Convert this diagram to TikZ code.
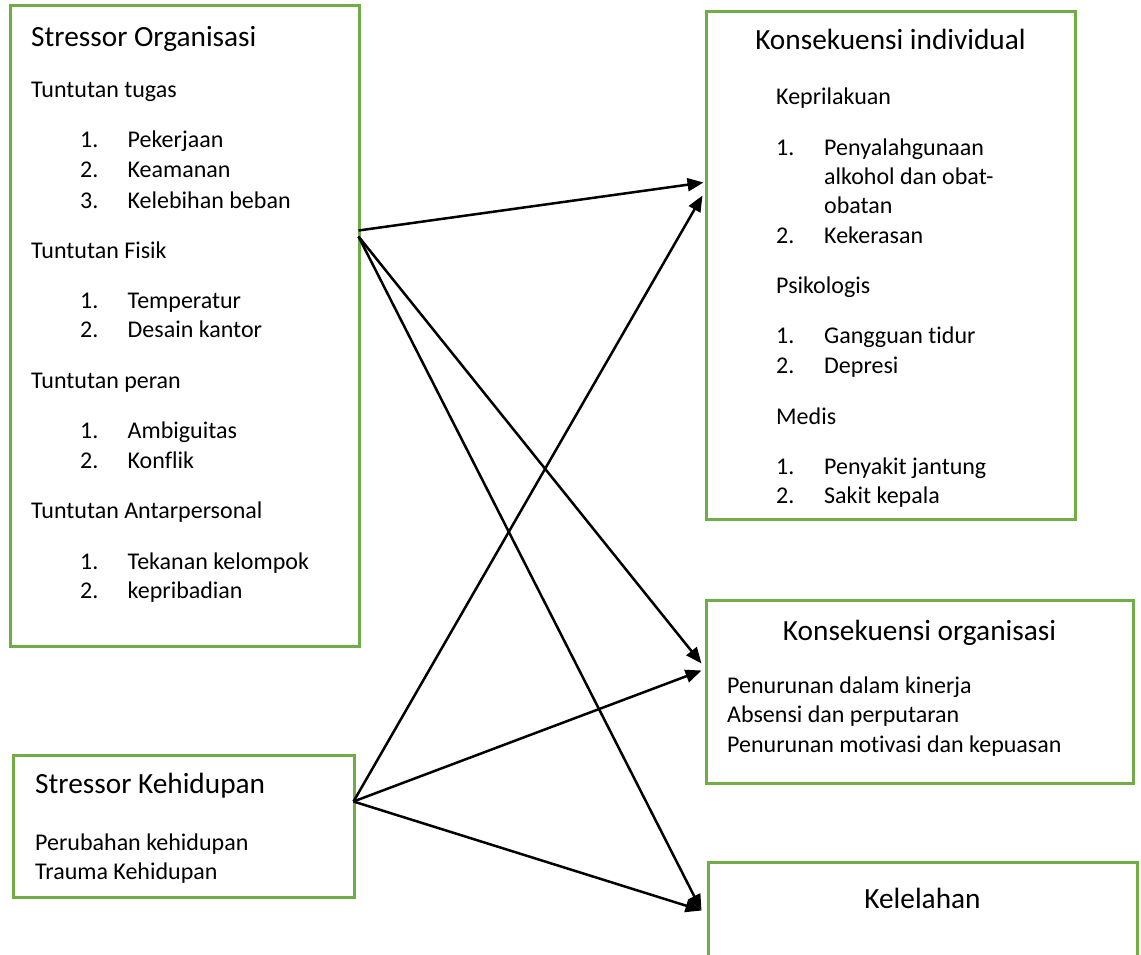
\documentclass[tikz,border=0pt]{standalone}
\usepackage{fontspec}
\setmainfont[Ligatures=CommonOff,RawFeature={-liga;-clig;-dlig}]{Carlito}
\usetikzlibrary{arrows.meta}
\definecolor{boxgreen}{HTML}{70AD47}
\tikzset{
  box/.style={draw=boxgreen, line width=3pt, rectangle, inner sep=0pt, fill=none},
  ttl/.style={inner sep=0pt, font=\fontsize{29.3}{35}\selectfont},
  txt/.style={inner sep=0pt, anchor=base west, font=\fontsize{24}{29.3}\selectfont},
  arr/.style={line width=2.5pt, -{Triangle[length=16pt,width=13pt]}}
}
\begin{document}
\begin{tikzpicture}[x=1pt,y=-1pt]
\clip (0,0) rectangle (1141,955);
\fill[white] (0,0) rectangle (1141,955);
% boxes
\node[box, minimum width=349pt, minimum height=640pt] (so) at (184.5,326) {};
\node[box, minimum width=369pt, minimum height=507pt] (ki) at (890.5,265.5) {};
\node[box, minimum width=427pt, minimum height=183pt] (ko) at (919.5,691.5) {};
\node[box, minimum width=341pt, minimum height=142pt] (sk) at (183.5,826) {};
\node[box, minimum width=429pt, minimum height=140pt] (kl) at (922.5,932) {};
% Stressor Organisasi
\node[ttl, anchor=base west] (so0) at (31,46.5) {Stressor Organisasi};
\node[txt] (so1) at (31,98) {Tuntutan tugas};
\node[txt] (so2n) at (80,148) {1.}; \node[txt] (so2) at (127.5,148) {Pekerjaan};
\node[txt] (so3n) at (80,178) {2.}; \node[txt] (so3) at (127.5,178) {Keamanan};
\node[txt] (so4n) at (80,208) {3.}; \node[txt] (so4) at (127.5,208) {Kelebihan beban};
\node[txt] (so5) at (31,258) {Tuntutan Fisik};
\node[txt] (so6n) at (80,308) {1.}; \node[txt] (so6) at (127.5,308) {Temperatur};
\node[txt] (so7n) at (80,337.5) {2.}; \node[txt] (so7) at (127.5,337.5) {Desain kantor};
\node[txt] (so8) at (31,388) {Tuntutan peran};
\node[txt] (so9n) at (80,438.5) {1.}; \node[txt] (so9) at (127.5,438.5) {Ambiguitas};
\node[txt] (so10n) at (80,468) {2.}; \node[txt] (so10) at (127.5,468) {Konflik};
\node[txt] (so11) at (31,518.5) {Tuntutan Antarpersonal};
\node[txt] (so12n) at (80,569) {1.}; \node[txt] (so12) at (127.5,569) {Tekanan kelompok};
\node[txt] (so13n) at (80,598.5) {2.}; \node[txt] (so13) at (127.5,598.5) {kepribadian};
% Konsekuensi individual
\node[ttl, anchor=base] (ki0) at (890.5,49.5) {Konsekuensi individual};
\node[txt] (ki1) at (776,105) {Keprilakuan};
\node[txt] (ki2n) at (776,155.5) {1.}; \node[txt] (ki2) at (824,155.5) {Penyalahgunaan};
\node[txt] (ki2b) at (824,184.5) {alkohol dan obat-};
\node[txt] (ki2c) at (824,213.5) {obatan};
\node[txt] (ki3n) at (776,243) {2.}; \node[txt] (ki3) at (824,243) {Kekerasan};
\node[txt] (ki4) at (776,293) {Psikologis};
\node[txt] (ki5n) at (776,343.5) {1.}; \node[txt] (ki5) at (824,343.5) {Gangguan tidur};
\node[txt] (ki6n) at (776,373) {2.}; \node[txt] (ki6) at (824,373) {Depresi};
\node[txt] (ki7) at (776,424) {Medis};
\node[txt] (ki8n) at (776,474.5) {1.}; \node[txt] (ki8) at (824,474.5) {Penyakit jantung};
\node[txt] (ki9n) at (776,503.5) {2.}; \node[txt] (ki9) at (824,503.5) {Sakit kepala};
% Konsekuensi organisasi
\node[ttl, anchor=base] (ko0) at (919.5,640) {Konsekuensi organisasi};
\node[txt] (ko1) at (727,693) {Penurunan dalam kinerja};
\node[txt] (ko2) at (727,722.5) {Absensi dan perputaran};
\node[txt] (ko3) at (727,752) {Penurunan motivasi dan kepuasan};
% Stressor Kehidupan
\node[ttl, anchor=base west] (sk0) at (35,793) {Stressor Kehidupan};
\node[txt] (sk1) at (35,850) {Perubahan kehidupan};
\node[txt] (sk2) at (35,879.5) {Trauma Kehidupan};
% Kelelahan
\node[ttl, anchor=base] (kl0) at (922.5,908) {Kelelahan};
% connector end points on the box borders
\coordinate (soA) at ([xshift=-2pt,yshift=-226pt]so.north east);
\coordinate (soB) at ([xshift=-2pt,yshift=-232pt]so.north east);
\coordinate (skA) at ([xshift=-2pt,yshift=-48pt]sk.north east);
\coordinate (kiA) at ([xshift=-1pt,yshift=-172pt]ki.north west);
\coordinate (kiB) at ([xshift=-2pt,yshift=-185pt]ki.north west);
\coordinate (koA) at ([xshift=-3pt,yshift=-65pt]ko.north west);
\coordinate (koB) at ([xshift=-3pt,yshift=-72pt]ko.north west);
\coordinate (klA) at ([xshift=-5pt,yshift=-50pt]kl.north west);
% connectors
\draw[arr] (soA) -- (kiA);
\draw[arr] (soB) -- (koA);
\draw[arr] (soB) -- (klA);
\draw[arr] (skA) -- (kiB);
\draw[arr] (skA) -- (koB);
\draw[arr] (skA) -- (klA);
\end{tikzpicture}
\end{document}
